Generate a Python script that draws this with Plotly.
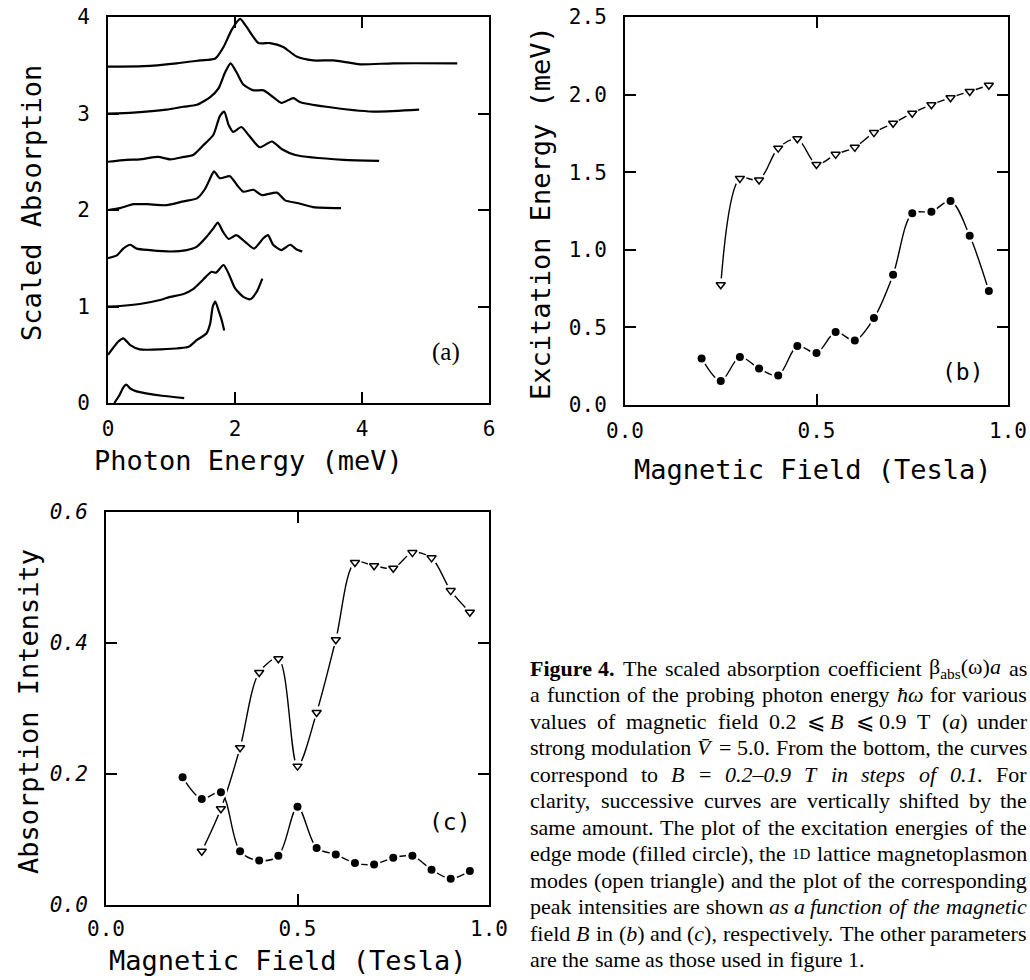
import re
import plotly.graph_objects as go

W, H = 1030, 980

# ---------------- Panel (a): scaled absorption vs photon energy (meV) ----------------
a_fields = [0.2, 0.3, 0.4, 0.5, 0.6, 0.7, 0.8, 0.9]
a_shift = 0.5
a_E_02 = [0.10, 0.18, 0.24, 0.29, 0.35, 0.45, 0.60, 0.85, 1.20]
a_A_02 = [0.00, 0.08, 0.16, 0.19, 0.15, 0.12, 0.10, 0.075, 0.05]
a_E_03 = [0.00, 0.08, 0.16, 0.24, 0.35, 0.50, 0.82, 1.27, 1.40, 1.55, 1.61, 1.65, 1.69, 1.74, 1.79, 1.83]
a_A_03 = [0.00, 0.07, 0.135, 0.17, 0.10, 0.056, 0.056, 0.083, 0.153, 0.22, 0.326, 0.50, 0.55, 0.46, 0.36, 0.25]
a_E_04 = [0.00, 0.19, 0.50, 0.82, 0.98, 1.19, 1.34, 1.50, 1.63, 1.70, 1.82, 1.90, 2.00, 2.13, 2.24, 2.34, 2.43]
a_A_04 = [0.00, 0.005, 0.026, 0.067, 0.10, 0.13, 0.18, 0.28, 0.36, 0.35, 0.43, 0.34, 0.19, 0.10, 0.075, 0.15, 0.29]
a_E_05 = [0.00, 0.14, 0.24, 0.35, 0.45, 0.66, 0.98, 1.24, 1.40, 1.55, 1.66, 1.73, 1.81, 1.90, 2.02, 2.16,
          2.30, 2.45, 2.52, 2.60, 2.73, 2.87, 2.97, 3.06]
a_A_05 = [0.00, 0.03, 0.10, 0.14, 0.10, 0.085, 0.07, 0.085, 0.12, 0.22, 0.31, 0.37, 0.275, 0.20, 0.24, 0.17,
          0.10, 0.21, 0.24, 0.14, 0.085, 0.14, 0.09, 0.07]
a_E_06 = [0.00, 0.19, 0.40, 0.61, 0.92, 1.19, 1.40, 1.53, 1.61, 1.67, 1.76, 1.92, 2.03, 2.13, 2.29, 2.42,
          2.66, 2.79, 3.00, 3.23, 3.67]
a_A_06 = [0.00, 0.02, 0.06, 0.06, 0.05, 0.09, 0.12, 0.22, 0.33, 0.40, 0.33, 0.35, 0.26, 0.19, 0.21, 0.155,
          0.18, 0.10, 0.07, 0.03, 0.02]
a_E_07 = [0.00, 0.29, 0.50, 0.79, 0.98, 1.19, 1.34, 1.50, 1.66, 1.76, 1.83, 1.90, 1.97, 2.10, 2.21, 2.39,
          2.58, 2.74, 2.95, 3.71, 4.27]
a_A_07 = [0.00, 0.02, 0.025, 0.05, 0.025, 0.05, 0.07, 0.17, 0.28, 0.47, 0.52, 0.38, 0.31, 0.36, 0.28, 0.15,
          0.21, 0.13, 0.07, 0.02, 0.01]
a_E_08 = [0.00, 0.40, 0.92, 1.19, 1.40, 1.61, 1.74, 1.84, 1.93, 2.03, 2.13, 2.29, 2.45, 2.60, 2.73, 2.92,
          3.02, 3.44, 4.18, 4.90]
a_A_08 = [0.00, 0.01, 0.04, 0.07, 0.09, 0.17, 0.26, 0.42, 0.52, 0.42, 0.30, 0.24, 0.24, 0.17, 0.11, 0.16,
          0.12, 0.07, 0.02, 0.04]
a_E_09 = [0.00, 0.56, 1.08, 1.45, 1.69, 1.82, 1.95, 2.08, 2.18, 2.37, 2.55, 2.76, 2.97, 3.23, 3.55, 3.97,
          4.49, 5.50]
a_A_09 = [-0.015, -0.01, 0.02, 0.05, 0.07, 0.19, 0.37, 0.48, 0.40, 0.23, 0.23, 0.19, 0.09, 0.05, 0.05, 0.01,
          0.02, 0.02]
a_xticks = [0, 2, 4, 6]
a_yticks = [0, 1, 2, 3, 4]

# ---------------- Panel (b): excitation energy vs magnetic field ----------------
b_field_circ = [0.20, 0.25, 0.30, 0.35, 0.40, 0.45, 0.50, 0.55, 0.60, 0.65, 0.70, 0.75, 0.80, 0.85, 0.90, 0.95]
b_energy_circ = [0.30, 0.155, 0.31, 0.235, 0.19, 0.38, 0.335, 0.47, 0.415, 0.56, 0.84, 1.235, 1.245, 1.315,
                 1.09, 0.735]
b_field_tri = [0.25, 0.30, 0.35, 0.40, 0.45, 0.50, 0.55, 0.60, 0.65, 0.70, 0.75, 0.80, 0.85, 0.90, 0.95]
b_energy_tri = [0.775, 1.46, 1.45, 1.655, 1.715, 1.55, 1.615, 1.66, 1.755, 1.815, 1.88, 1.935, 1.98, 2.02, 2.06]
b_xticks = [0.0, 0.5, 1.0]
b_xticktext = ["0.0", "0.5", "1.0"]
b_yticks = [0.0, 0.5, 1.0, 1.5, 2.0, 2.5]
b_yticktext = ["0.0", "0.5", "1.0", "1.5", "2.0", "2.5"]

# ---------------- Panel (c): absorption intensity vs magnetic field ----------------
c_field_circ = [0.20, 0.25, 0.30, 0.35, 0.40, 0.45, 0.50, 0.55, 0.60, 0.65, 0.70, 0.75, 0.80, 0.85, 0.90, 0.95]
c_int_circ = [0.195, 0.162, 0.172, 0.082, 0.068, 0.075, 0.150, 0.087, 0.077, 0.064, 0.062, 0.072, 0.075,
              0.054, 0.040, 0.052]
c_field_tri = [0.25, 0.30, 0.35, 0.40, 0.45, 0.50, 0.55, 0.60, 0.65, 0.70, 0.75, 0.80, 0.85, 0.90, 0.95]
c_int_tri = [0.082, 0.147, 0.240, 0.355, 0.376, 0.212, 0.294, 0.405, 0.523, 0.518, 0.514, 0.538, 0.530,
             0.480, 0.447]
c_xticks = [0.0, 0.5, 1.0]
c_xticktext = ["0.0", "0.5", "1.0"]
c_yticks = [0.0, 0.2, 0.4, 0.6]
c_yticktext = ["0.0", "0.2", "0.4", "0.6"]

# ---------------- Caption ----------------
cap_lines = [
    ["<b>Figure</b>", "<b>4.</b>", "The", "scaled", "absorption", "coefficient", "β<sub>abs</sub>(ω)<i>a</i>", "as"],
    ["a", "function", "of", "the", "probing", "photon", "energy", "<i>ħω</i>", "for", "various"],
    ["values", "of", "magnetic", "field", "0.2", "⩽", "<i>B</i>", "⩽", "0.9", "T", "(<i>a</i>)", "under"],
    ["strong", "modulation", "<i>V̄</i>", "=", "5.0.", "From", "the", "bottom,", "the", "curves"],
    ["correspond", "to", "<i>B</i>", "=", "<i>0.2–0.9</i>", "<i>T</i>", "<i>in</i>", "<i>steps</i>", "<i>of</i>",
     "<i>0.1.</i>", "For"],
    ["clarity,", "successive", "curves", "are", "vertically", "shifted", "by", "the"],
    ["same", "amount.", "The", "plot", "of", "the", "excitation", "energies", "of", "the"],
    ["edge", "mode", "(filled", "circle),", "the", "<span style='font-size:15px'>1D</span>", "lattice",
     "magnetoplasmon"],
    ["modes", "(open", "triangle)", "and", "the", "plot", "of", "the", "corresponding"],
    ["peak", "intensities", "are", "shown", "<i>as</i>", "<i>a</i>", "<i>function</i>", "<i>of</i>", "<i>the</i>",
     "<i>magnetic</i>"],
    ["field", "<i>B</i>", "in", "(<i>b</i>)", "and", "(<i>c</i>),", "respectively.", "The", "other", "parameters"],
    ["are", "the", "same", "as", "those", "used", "in", "figure", "1."],
]

# Times-Roman advance widths (per 1000 em) for justification
TIMES = {' ': 250, '!': 333, '(': 333, ')': 333, ',': 250, '-': 333, '.': 250, '=': 564, '–': 500,
         '⩽': 549, 'β': 550, 'ω': 686, 'ħ': 500, '\u0304': 0}
for ch in '0123456789':
    TIMES[ch] = 500
TIMES.update(dict(zip('ABCDEFGHIJKLMNOPQRSTUVWXYZ',
                      [722, 667, 667, 722, 611, 556, 722, 722, 333, 389, 722, 611, 889, 722, 722, 556, 722,
                       667, 556, 611, 722, 722, 944, 722, 722, 611])))
TIMES.update(dict(zip('abcdefghijklmnopqrstuvwxyz',
                      [444, 500, 444, 500, 444, 333, 500, 500, 278, 278, 500, 278, 778, 500, 500, 500, 500,
                       333, 389, 278, 500, 500, 722, 500, 500, 444])))


def word_width(w, fs):
    subs = re.findall(r'<sub>(.*?)</sub>', w)
    main = re.sub(r'<sub>.*?</sub>', '', w)
    small = re.findall(r"<span[^>]*>(.*?)</span>", main)
    main = re.sub(r"<span[^>]*>.*?</span>", '', main)
    main = re.sub(r'<[^>]+>', '', main)
    wd = sum(TIMES.get(c, 500) for c in main)
    wd += 0.7 * sum(TIMES.get(c, 500) for s in subs for c in s)
    wd += 0.7 * sum(TIMES.get(c, 500) for s in small for c in s)
    if w.startswith('<b>'):
        wd *= 1.06
    return wd * fs / 1000.0


def px(xp):  # page pixel -> paper fraction
    return xp / W


def py(yp):
    return 1 - yp / H


fig = go.Figure()

# Panel (a) curves
a_curves = [(a_E_02, a_A_02), (a_E_03, a_A_03), (a_E_04, a_A_04), (a_E_05, a_A_05),
            (a_E_06, a_A_06), (a_E_07, a_A_07), (a_E_08, a_A_08), (a_E_09, a_A_09)]
for k, (E, A) in enumerate(a_curves):
    fig.add_trace(go.Scatter(x=E, y=[v + k * a_shift for v in A], mode='lines',
                             line=dict(color='black', width=2.2, shape='spline', smoothing=0.6),
                             xaxis='x', yaxis='y', showlegend=False, hoverinfo='skip'))


def add_series(xs, ys, xa, ya, symbol, msize, mline):
    fig.add_trace(go.Scatter(x=xs, y=ys, mode='lines',
                             line=dict(color='black', width=1.4, shape='spline', smoothing=0.9),
                             xaxis=xa, yaxis=ya, showlegend=False, hoverinfo='skip'))
    fig.add_trace(go.Scatter(x=xs, y=ys, mode='markers',
                             marker=dict(symbol='circle', size=13, color='white', line=dict(width=0)),
                             xaxis=xa, yaxis=ya, showlegend=False, hoverinfo='skip'))
    fig.add_trace(go.Scatter(x=xs, y=ys, mode='markers',
                             marker=dict(symbol=symbol, size=msize, color='black',
                                         line=dict(width=mline, color='black')),
                             xaxis=xa, yaxis=ya, showlegend=False, hoverinfo='skip'))


add_series(b_field_tri, b_energy_tri, 'x2', 'y2', 'triangle-down-open', 8, 1.5)
add_series(b_field_circ, b_energy_circ, 'x2', 'y2', 'circle', 8, 0)
add_series(c_field_tri, c_int_tri, 'x3', 'y3', 'triangle-down-open', 8, 1.5)
add_series(c_field_circ, c_int_circ, 'x3', 'y3', 'circle', 8, 0)

MONO = 'DejaVu Sans Mono'


def axis(**kw):
    d = dict(showline=True, linecolor='black', linewidth=2, mirror='ticks', ticks='inside',
             ticklen=11, tickwidth=2, tickcolor='black', showgrid=False, zeroline=False,
             automargin=False, ticklabeloverflow='allow',
             tickfont=dict(family=MONO, size=21, color='black'))
    d.update(kw)
    return d


fig.update_layout(
    template='none',
    width=W, height=H, margin=dict(l=0, r=0, t=0, b=0, pad=0), autosize=False,
    paper_bgcolor='white', plot_bgcolor='white', showlegend=False,
    xaxis=axis(domain=[px(108), px(489)], range=[0, 6], tickvals=a_xticks, anchor='y', ticklabelstandoff=6),
    yaxis=axis(domain=[py(403), py(17)], range=[0, 4], tickvals=a_yticks, anchor='x', ticklabelstandoff=12),
    xaxis2=axis(domain=[px(625), px(1008)], range=[0, 1], tickvals=b_xticks, ticktext=b_xticktext,
                anchor='y2', ticklabelstandoff=6),
    yaxis2=axis(domain=[py(405), py(17)], range=[0, 2.5], tickvals=b_yticks, ticktext=b_yticktext,
                anchor='x2', ticklabelstandoff=12),
    xaxis3=axis(domain=[px(106), px(489)], range=[0, 1], tickvals=c_xticks, ticktext=c_xticktext,
                anchor='y3', ticklabelstandoff=4),
    yaxis3=axis(domain=[py(905), py(512)], range=[0, 0.6], tickvals=c_yticks, ticktext=c_yticktext,
                anchor='x3', ticklabelstandoff=12,
                tickfont=dict(family=MONO, size=21, color='black', style='italic')),
)

annotations = []


def ann(text, xp, yp, size, family=MONO, angle=0, xanchor='center', yanchor='middle', style='normal'):
    annotations.append(dict(text=text, x=px(xp), y=py(yp), xref='paper', yref='paper', showarrow=False,
                            xanchor=xanchor, yanchor=yanchor, textangle=angle,
                            font=dict(family=family, size=size, color='black', style=style)))


# axis titles
ann('Scaled Absorption', 31, 203, 27, angle=-90)
ann('Photon Energy (meV)', 248, 460, 27)
ann('Excitation Energy (meV)', 540, 213, 27, angle=-90)
ann('Magnetic Field (Tesla)', 813, 469, 27)
ann('Absorption Intensity', 28, 712, 27, angle=-90)
ann('Magnetic Field (Tesla)', 288, 960, 27)
# panel labels
ann('(a)', 446, 352, 25, family='Liberation Serif')
ann('(b)', 963, 372, 23)
ann('(c)', 450, 822, 23)

# caption, justified word by word
FS = 22
CL, CR = 529, 1026
for i, words in enumerate(cap_lines):
    yc = 668 + 26.5 * i
    widths = [word_width(w, FS) for w in words]
    if i < len(cap_lines) - 1:
        gap = (CR - CL - sum(widths)) / (len(words) - 1)
    else:
        gap = 0.25 * FS
    x = CL
    for w, wd in zip(words, widths):
        annotations.append(dict(text=w, x=px(x), y=py(yc), xref='paper', yref='paper', showarrow=False,
                                xanchor='left', yanchor='middle', borderpad=0,
                                font=dict(family='Liberation Serif', size=FS, color='black')))
        x += wd + gap

fig.update_layout(annotations=annotations)
# remove the browser's default page margin so the figure fills the window exactly
fig.write_html('out.html', config={'displayModeBar': False},
               post_script="document.body.style.margin='0';document.body.style.overflow='hidden';")
